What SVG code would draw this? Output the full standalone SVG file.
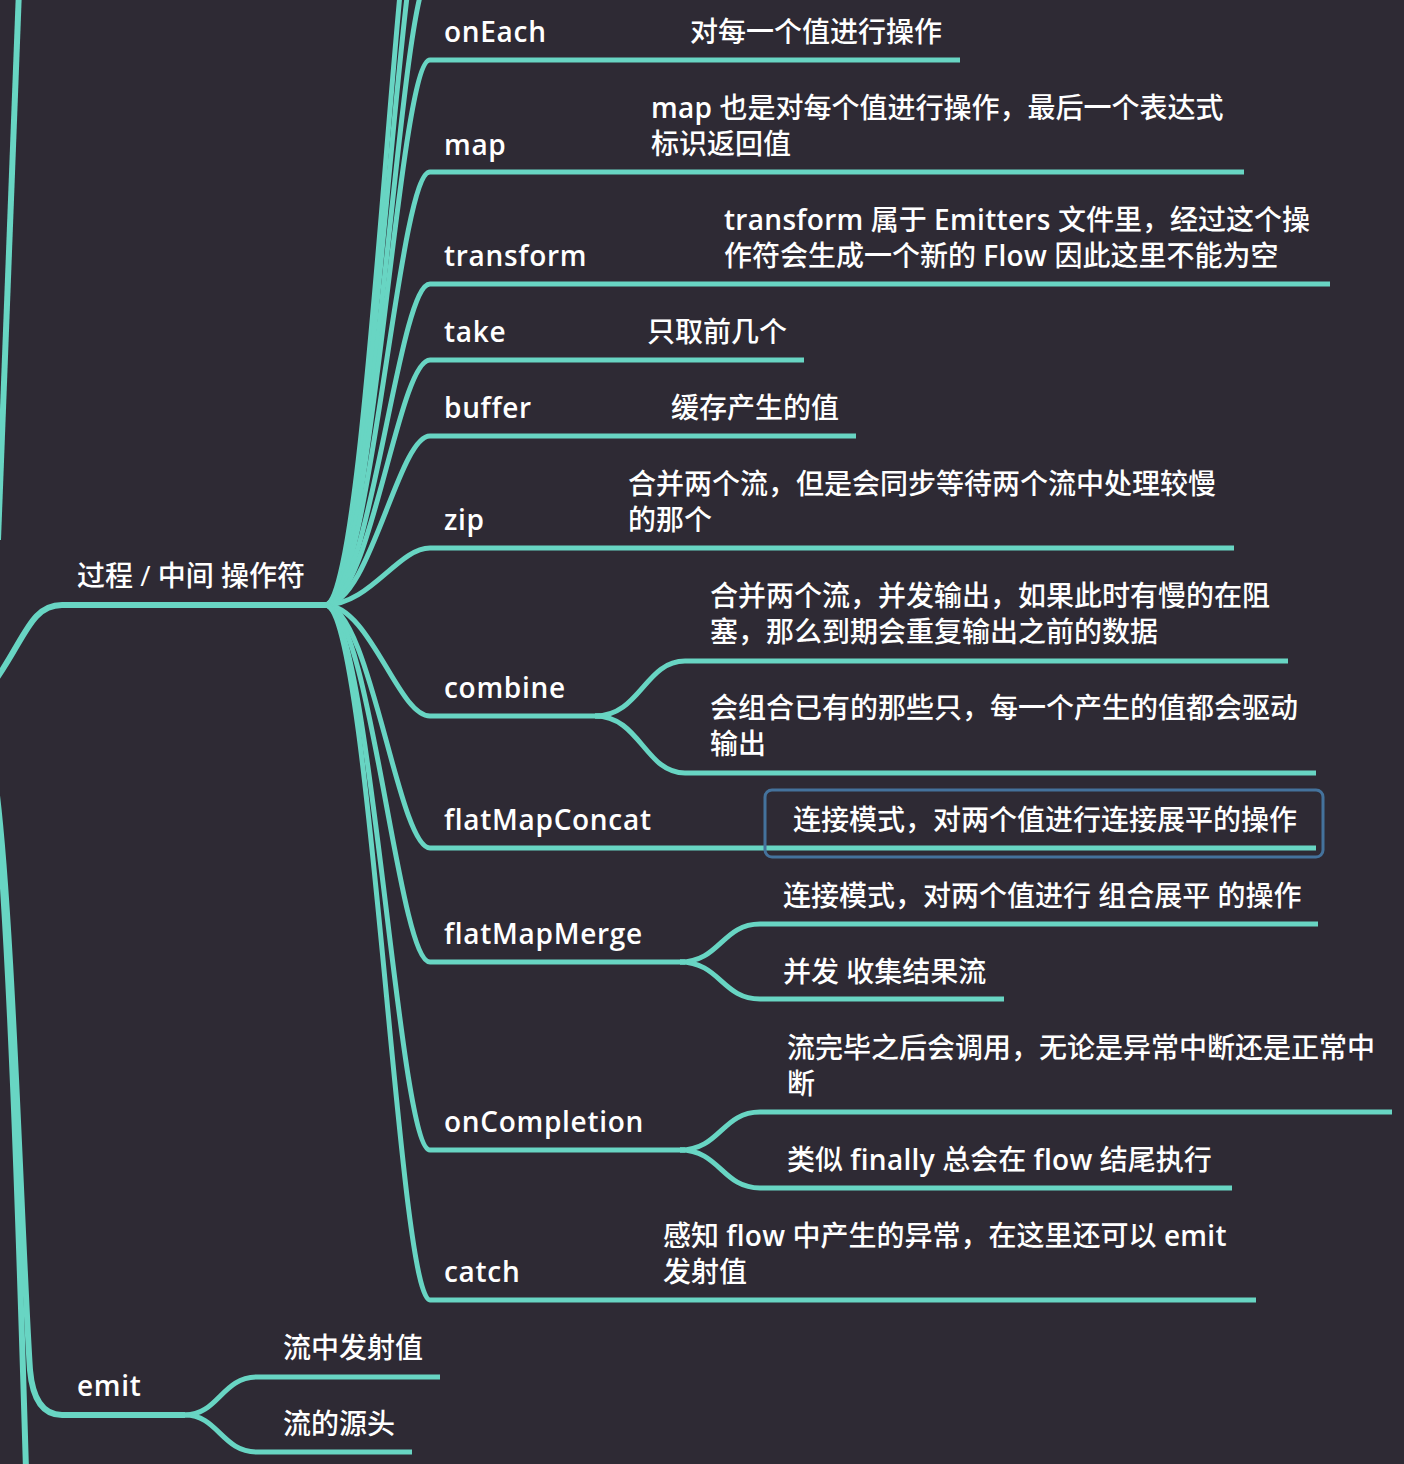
<svg xmlns="http://www.w3.org/2000/svg" width="1404" height="1464" viewBox="0 0 1404 1464">
<style>
.bg{fill:#2e2a34}
.ln{fill:none;stroke:#68d5c3;stroke-width:5;stroke-linecap:butt}
.thick{stroke-width:6}
.t{font-family:"Open Sans","Noto Sans CJK SC",sans-serif;font-size:28px;font-weight:600;fill:#ffffff;letter-spacing:0.7px}
.c{font-family:"Open Sans","Noto Sans CJK SC",sans-serif;font-size:28px;font-weight:500;fill:#ffffff}
.l{font-weight:600;letter-spacing:0.3px}
.box{fill:none;stroke:#44729c;stroke-width:3}
</style>
<rect class="bg" x="0" y="0" width="1404" height="1464"/>
<g id="connectors">
<path class="ln thick" d="M -2 540 Q 10 250 19 -10"/>
<path class="ln thick" d="M -8 685 C 25 640 30 605 62 605 H 325"/>
<path class="ln thick" d="M -5 780 C 12 900 22 1250 30 1370 Q 34 1415 62 1415 H 185"/>
<path class="ln thick" d="M -5 780 C 10 950 18 1200 26 1470"/>
<path class="ln" d="M 185 1415 C 218 1415 222 1377 257 1377 H 440"/>
<path class="ln" d="M 185 1415 C 218 1415 222 1452 257 1452 H 412"/>
<path class="ln" d="M 325 605 C 370 605 398 -200 430 -200 H 900"/>
<path class="ln" d="M 325 605 C 370 605 398 -110 430 -110 H 900"/>
<path class="ln" d="M 325 605 C 370 605 400 -25 430 -25 H 900"/>
<path class="ln" d="M 325 605 C 370 605 398 60 430 60 H 960"/>
<path class="ln" d="M 325 605 C 370 605 398 172 430 172 H 1244"/>
<path class="ln" d="M 325 605 C 370 605 398 284 430 284 H 1330"/>
<path class="ln" d="M 325 605 C 370 605 398 360 430 360 H 804"/>
<path class="ln" d="M 325 605 C 370 605 398 436 430 436 H 856"/>
<path class="ln" d="M 325 605 C 370 605 398 548 430 548 H 1234"/>
<path class="ln" d="M 325 605 C 370 605 398 716 430 716 H 600"/>
<path class="ln" d="M 325 605 C 370 605 398 848 430 848 H 1316"/>
<path class="ln" d="M 325 605 C 370 605 398 962 430 962 H 685"/>
<path class="ln" d="M 325 605 C 370 605 398 1150 430 1150 H 685"/>
<path class="ln" d="M 325 605 C 370 605 398 1300 430 1300 H 1256"/>
<path class="ln" d="M 595 716 C 640 716 645 661 685 661 H 1288"/>
<path class="ln" d="M 595 716 C 640 716 645 773 685 773 H 1316"/>
<path class="ln" d="M 680 962 C 720 962 722 924 760 924 H 1318"/>
<path class="ln" d="M 680 962 C 720 962 722 999 760 999 H 1004"/>
<path class="ln" d="M 680 1150 C 720 1150 722 1112 760 1112 H 1392"/>
<path class="ln" d="M 680 1150 C 720 1150 722 1188 760 1188 H 1232"/>
</g>
<g id="node-process"><text class="c" x="77" y="586">过程 / 中间 操作符</text></g>
<g id="node-onEach"><text class="t" x="444" y="42">onEach</text><text class="c" x="690" y="42">对每一个值进行操作</text></g>
<g id="node-map"><text class="t" x="444" y="155">map</text><text class="c" x="651" y="118"><tspan class="l">map</tspan> 也是对每个值进行操作，最后一个表达式</text><text class="c" x="651" y="154">标识返回值</text></g>
<g id="node-transform"><text class="t" x="444" y="266">transform</text><text class="c" x="724" y="230"><tspan class="l">transform</tspan> 属于 <tspan class="l">Emitters</tspan> 文件里，经过这个操</text><text class="c" x="724" y="266">作符会生成一个新的 <tspan class="l">Flow</tspan> 因此这里不能为空</text></g>
<g id="node-take"><text class="t" x="444" y="342">take</text><text class="c" x="647" y="342">只取前几个</text></g>
<g id="node-buffer"><text class="t" x="444" y="418">buffer</text><text class="c" x="671" y="418">缓存产生的值</text></g>
<g id="node-zip"><text class="t" x="444" y="530">zip</text><text class="c" x="628" y="494">合并两个流，但是会同步等待两个流中处理较慢</text><text class="c" x="628" y="530">的那个</text></g>
<g id="node-combine"><text class="t" x="444" y="698">combine</text></g>
<g id="node-combine-1"><text class="c" x="710" y="606">合并两个流，并发输出，如果此时有慢的在阻</text><text class="c" x="710" y="642">塞，那么到期会重复输出之前的数据</text></g>
<g id="node-combine-2"><text class="c" x="710" y="718">会组合已有的那些只，每一个产生的值都会驱动</text><text class="c" x="710" y="754">输出</text></g>
<g id="node-flatMapConcat"><text class="t" x="444" y="830">flatMapConcat</text></g>
<g id="node-flatMapConcat-1"><rect class="box" x="765" y="790" width="558" height="67" rx="7"/><text class="c" x="793" y="830">连接模式，对两个值进行连接展平的操作</text></g>
<g id="node-flatMapMerge"><text class="t" x="444" y="944">flatMapMerge</text></g>
<g id="node-flatMapMerge-1"><text class="c" x="783" y="906">连接模式，对两个值进行 组合展平 的操作</text></g>
<g id="node-flatMapMerge-2"><text class="c" x="783" y="982">并发 收集结果流</text></g>
<g id="node-onCompletion"><text class="t" x="444" y="1132">onCompletion</text></g>
<g id="node-onCompletion-1"><text class="c" x="787" y="1058">流完毕之后会调用，无论是异常中断还是正常中</text><text class="c" x="787" y="1094">断</text></g>
<g id="node-onCompletion-2"><text class="c" x="787" y="1170">类似 <tspan class="l">finally</tspan> 总会在 <tspan class="l">flow</tspan> 结尾执行</text></g>
<g id="node-catch"><text class="t" x="444" y="1282">catch</text><text class="c" x="663" y="1246">感知 <tspan class="l">flow</tspan> 中产生的异常，在这里还可以 <tspan class="l">emit</tspan></text><text class="c" x="663" y="1282">发射值</text></g>
<g id="node-emit"><text class="t" x="77" y="1396">emit</text></g>
<g id="node-emit-1"><text class="c" x="283" y="1358">流中发射值</text></g>
<g id="node-emit-2"><text class="c" x="283" y="1434">流的源头</text></g>
</svg>
